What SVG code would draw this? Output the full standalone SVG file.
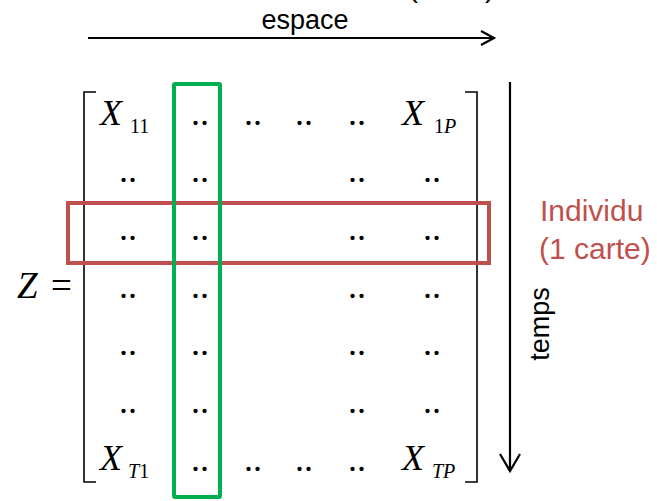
<svg xmlns="http://www.w3.org/2000/svg" width="657" height="501" viewBox="0 0 657 501">
<style>
.sans{font-family:"Liberation Sans",Arial,sans-serif;}
.m{font-family:"Liberation Serif","Times New Roman",serif;fill:#000;}
.it{font-style:italic;}
.X{font-size:36px;font-style:italic;}
.sub{font-size:20px;}
.dd{font-size:36px;text-anchor:middle;}
.ax{stroke:#000;stroke-width:2.2;fill:none;}
.br{stroke:#000;stroke-width:1.6;fill:none;}
</style>
<rect width="657" height="501" fill="#fff"/>
<g id="title-clip">
<text class="sans" x="408" y="-3" font-size="30">(</text>
<text class="sans" x="485" y="-3" font-size="30">)</text>
</g>
<g id="connectors">
<path class="ax" d="M88 38 H493 M481 31 L494 38 L481 45"/>
<path class="ax" d="M510 82 V470 M500 454 L510 471 L520 454"/>
</g>
<g id="labels">
<text class="sans" x="305" y="29" font-size="27" text-anchor="middle">espace</text>
<text class="sans" transform="translate(549 324) rotate(-90)" font-size="27" text-anchor="middle">temps</text>
<text class="sans" x="540" y="221" font-size="30" fill="#C0504D">Individu</text>
<text class="sans" x="539" y="259" font-size="30" fill="#C0504D">(1 carte)</text>
</g>
<g id="matrix">
<text class="m" y="298" font-size="37"><tspan x="17" font-style="italic">Z</tspan><tspan x="51">=</tspan></text>
<path class="br" d="M96 92 H84 V482 H96"/>
<path class="br" d="M465 92 H477 V482 H465"/>
<text class="m" y="125"><tspan class="X" x="100">X</tspan><tspan class="sub" x="130" y="133">11</tspan></text>
<text class="m" y="125"><tspan class="X" x="402">X</tspan><tspan class="sub" x="434" y="133">1</tspan><tspan class="sub it">P</tspan></text>
<text class="m" y="470"><tspan class="X" x="100">X</tspan><tspan class="sub it" x="128" y="478">T</tspan><tspan class="sub">1</tspan></text>
<text class="m" y="470"><tspan class="X" x="402">X</tspan><tspan class="sub it" x="432" y="478">TP</tspan></text>
<g class="m dd">
<text x="200" y="125">..</text><text x="253" y="125">..</text><text x="304" y="125">..</text><text x="357" y="125">..</text>
<text x="128" y="182">..</text><text x="200" y="182">..</text><text x="357" y="182">..</text><text x="432" y="182">..</text>
<text x="128" y="240">..</text><text x="200" y="240">..</text><text x="357" y="240">..</text><text x="432" y="240">..</text>
<text x="128" y="298">..</text><text x="200" y="298">..</text><text x="357" y="298">..</text><text x="432" y="298">..</text>
<text x="128" y="355">..</text><text x="200" y="355">..</text><text x="357" y="355">..</text><text x="432" y="355">..</text>
<text x="128" y="413">..</text><text x="200" y="413">..</text><text x="357" y="413">..</text><text x="432" y="413">..</text>
<text x="200" y="471">..</text><text x="253" y="471">..</text><text x="304" y="471">..</text><text x="357" y="471">..</text>
</g>
</g>
<g id="row-individu">
<rect x="68" y="203" width="421" height="60" fill="none" stroke="#C0504D" stroke-width="4"/>
</g>
<g id="col-espace">
<rect x="174" y="84" width="46" height="413" rx="1" fill="none" stroke="#00B050" stroke-width="4"/>
</g>
</svg>
